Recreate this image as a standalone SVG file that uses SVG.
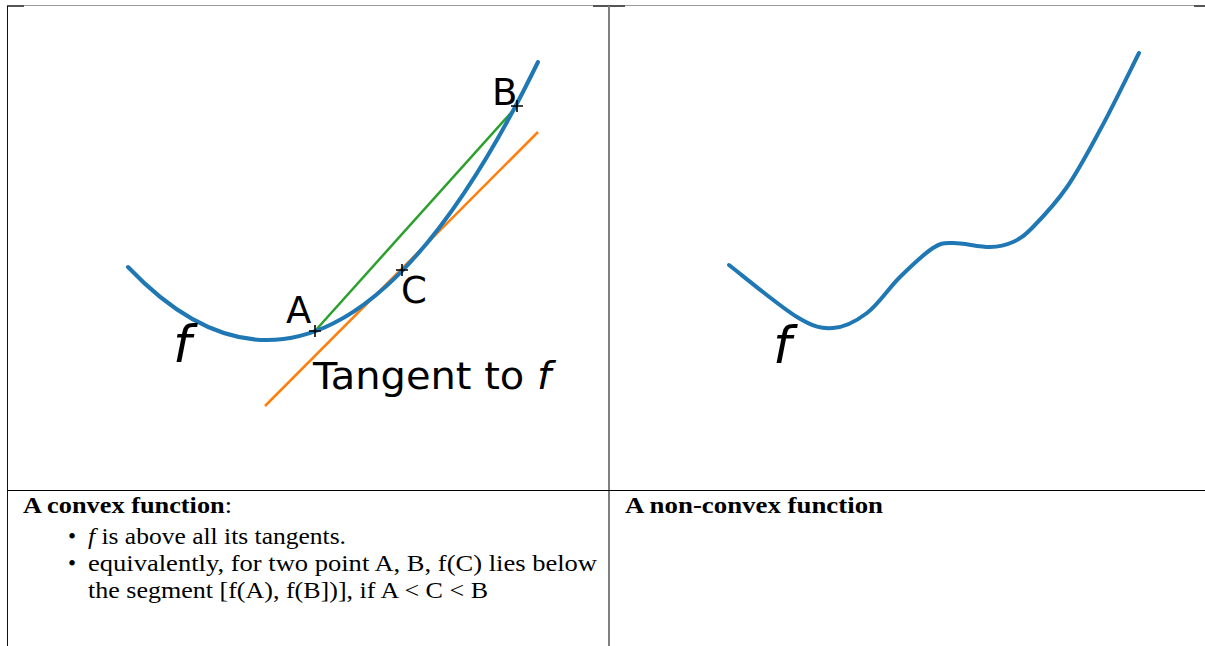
<svg xmlns="http://www.w3.org/2000/svg" width="1205" height="646" viewBox="0 0 1205 646">
<style>
.curve{fill:none;stroke:#1f77b4;stroke-width:4;stroke-linecap:round}
.chord{fill:none;stroke:#2ca02c;stroke-width:2.5}
.tan{fill:none;stroke:#ff7f0e;stroke-width:2.5}
.mark{fill:none;stroke:#000;stroke-width:1.6}
.lbl{font-family:"DejaVu Sans",sans-serif;font-size:37px;fill:#000}
.flbl{font-family:"DejaVu Sans",sans-serif;font-style:italic;font-size:52px;fill:#000}
.cap{font-family:"Liberation Serif",serif;font-size:23px;fill:#000}
.b{font-weight:bold}
</style>
<rect width="1205" height="646" fill="#fff"/>
<g id="table">
<line x1="7" y1="5.5" x2="1205" y2="5.5" stroke="#999" stroke-width="1"/>
<rect x="7" y="5" width="17" height="2" fill="#555"/>
<rect x="593" y="5" width="32" height="2" fill="#555"/>
<rect x="1194" y="5" width="11" height="2" fill="#555"/>
<line x1="7.5" y1="6" x2="7.5" y2="646" stroke="#111" stroke-width="1"/>
<line x1="609" y1="6" x2="609" y2="646" stroke="#808080" stroke-width="2"/>
<line x1="7" y1="490.5" x2="1205" y2="490.5" stroke="#000" stroke-width="1"/>
</g>
<g id="convex-plot">
<line class="tan" x1="265" y1="406" x2="538" y2="132"/>
<line class="chord" x1="315" y1="331" x2="517" y2="106"/>
<path class="curve" d="M128,267 Q333,482.6 538,62"/>
<path class="mark" d="M309,331h12M315,325v12M511,106h12M517,100v12M396,270h12M402,264v12"/>
<text class="lbl" x="286" y="323">A</text>
<text class="lbl" x="492" y="105">B</text>
<text class="lbl" x="401" y="303">C</text>
<text class="flbl" x="173" y="362">f</text>
<text class="lbl" x="313" y="389" font-size="38" textLength="238" lengthAdjust="spacingAndGlyphs">Tangent to <tspan font-style="italic">f</tspan></text>
</g>
<g id="nonconvex-plot">
<path class="curve" d="M729,265 C740.3,273.7 779.7,306.5 797,317 C814.3,327.5 821.3,328.7 833,328 C844.7,327.3 855.8,321.5 867,313 C878.2,304.5 889,287.8 900,277 C911,266.2 924.2,253.7 933,248 C941.8,242.3 943.5,243.2 953,243 C962.5,242.8 980,247.2 990,247 C1000,246.8 1005.8,245.3 1013,242 C1020.2,238.7 1024,236.2 1033,227 C1042,217.8 1055.8,203.2 1067,187 C1078.2,170.8 1088,152.3 1100,130 C1112,108.3 1132.5,65.8 1139,53"/>
<text class="flbl" x="773" y="363">f</text>
</g>
<g id="convex-caption">
<text class="cap" x="23" y="513" textLength="209" lengthAdjust="spacingAndGlyphs"><tspan class="b">A convex function</tspan>:</text>
<text class="cap" x="68" y="544">•</text>
<text class="cap" x="88" y="544" textLength="258" lengthAdjust="spacingAndGlyphs"><tspan font-style="italic">f</tspan> is above all its tangents.</text>
<text class="cap" x="68" y="571">•</text>
<text class="cap" x="88" y="571" textLength="509" lengthAdjust="spacingAndGlyphs">equivalently, for two point A, B, f(C) lies below</text>
<text class="cap" x="88" y="598" textLength="400" lengthAdjust="spacingAndGlyphs">the segment [f(A), f(B])], if A &lt; C &lt; B</text>
</g>
<g id="nonconvex-caption">
<text class="cap b" x="625" y="513" textLength="258" lengthAdjust="spacingAndGlyphs">A non-convex function</text>
</g>
</svg>
